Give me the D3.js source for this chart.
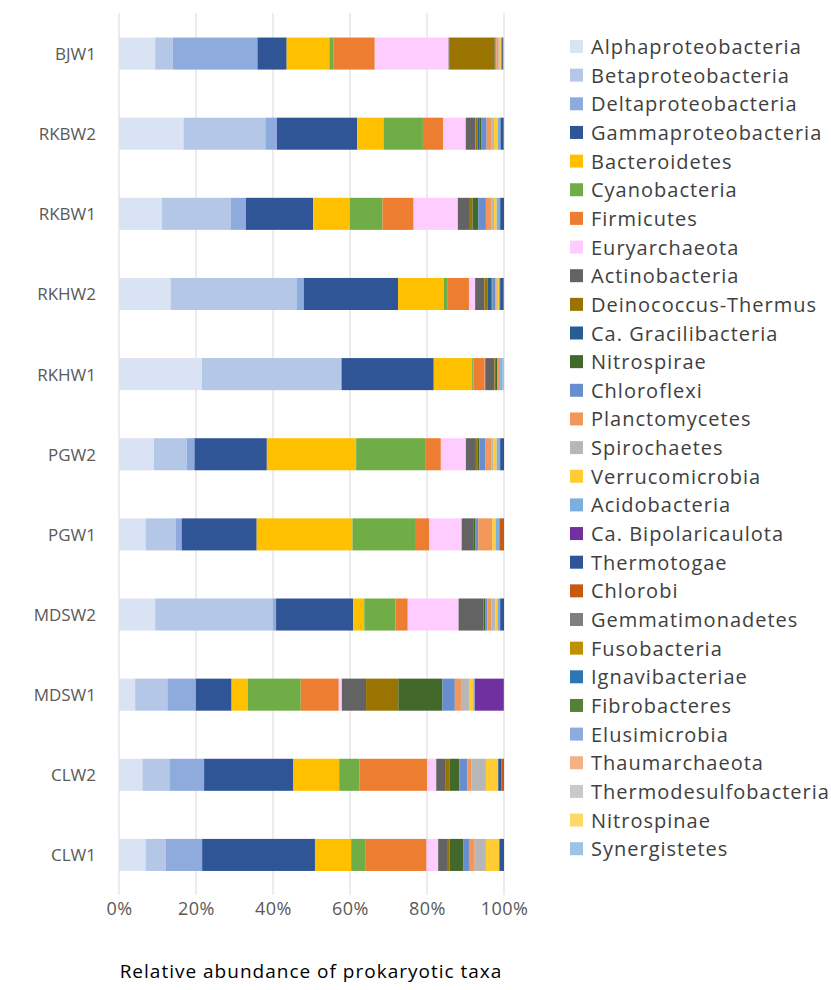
<!DOCTYPE html>
<html>
<head>
<meta charset="utf-8">
<script src="https://cdn.jsdelivr.net/npm/d3@7"></script>
<style>
  body { margin: 0; background: #fff; }
  text { font-family: "Open Sans", sans-serif; }
</style>
</head>
<body>
<div id="chart"></div>
<script>
// samples, top to bottom
var samples = ["BJW1", "RKBW2", "RKBW1", "RKHW2", "RKHW1", "PGW2", "PGW1", "MDSW2", "MDSW1", "CLW2", "CLW1"];

var taxa = ["Alphaproteobacteria", "Betaproteobacteria", "Deltaproteobacteria", "Gammaproteobacteria",
    "Bacteroidetes", "Cyanobacteria", "Firmicutes", "Euryarchaeota", "Actinobacteria", "Deinococcus-Thermus",
    "Ca. Gracilibacteria", "Nitrospirae", "Chloroflexi", "Planctomycetes", "Spirochaetes", "Verrucomicrobia",
    "Acidobacteria", "Ca. Bipolaricaulota", "Thermotogae", "Chlorobi", "Gemmatimonadetes", "Fusobacteria",
    "Ignavibacteriae", "Fibrobacteres", "Elusimicrobia", "Thaumarchaeota", "Thermodesulfobacteria",
    "Nitrospinae", "Synergistetes"];

var colors = ["#dae3f3", "#b4c7e7", "#8faadc", "#2f5597", "#ffc000", "#70ad47", "#ed7d31", "#ffccff",
    "#636363", "#9a7400", "#255e91", "#43682b", "#698ed0", "#f1975a", "#b7b7b7", "#ffcd33",
    "#7cafdd", "#7030a0", "#2f5597", "#c55a11", "#7f7f7f", "#bf9000", "#2e75b6", "#548235",
    "#8faadc", "#f4b183", "#c9c9c9", "#ffd966", "#9dc3e6"];

// relative abundance (%) per sample, in taxa order
var BJW1  = [9.4, 4.6, 22.0, 7.6, 11.1, 1.0, 10.8, 19.2, 0.3, 11.7, 0.1, 0.1, 0.2, 0.6, 0.3, 0.3, 0.2, 0, 0.3, 0.1, 0, 0, 0, 0, 0, 0, 0, 0, 0.2];
var RKBW2 = [16.7, 21.2, 3.0, 20.8, 6.8, 10.2, 5.2, 5.9, 2.5, 0.6, 0.4, 0.6, 1.3, 1.3, 0.6, 1.0, 0.7, 0, 0.7, 0.2, 0, 0, 0, 0, 0, 0, 0, 0, 0];
var RKBW1 = [11.1, 17.9, 4.0, 17.5, 9.5, 8.5, 8.1, 11.5, 2.9, 0.9, 0, 1.5, 2.0, 1.5, 0.6, 0.7, 0.9, 0, 1.0, 0, 0, 0, 0, 0, 0, 0, 0, 0, 0];
var RKHW2 = [13.4, 32.7, 1.9, 24.5, 11.9, 1.0, 5.5, 1.6, 2.4, 0.9, 0.9, 0.3, 0.8, 0.3, 0.3, 0.3, 0.3, 0, 0.8, 0.2, 0, 0, 0, 0, 0, 0, 0, 0, 0];
var RKHW1 = [21.6, 36.2, 0.2, 24.0, 10.0, 0.4, 2.9, 0.1, 2.4, 0.2, 0, 0.6, 0, 0.7, 0, 0, 0.5, 0, 0, 0, 0, 0, 0, 0, 0, 0, 0, 0, 0.5];
var PGW2  = [9.1, 8.5, 2.0, 18.8, 23.2, 18.1, 3.9, 6.5, 2.6, 0.5, 0, 0.4, 1.5, 1.7, 0.4, 0.9, 0.9, 0, 1.0, 0, 0, 0, 0, 0, 0, 0, 0, 0, 0];
var PGW1  = [6.9, 7.8, 1.6, 19.5, 24.9, 16.5, 3.5, 8.4, 3.0, 0, 0, 0.6, 0.7, 3.7, 0, 0.9, 0.9, 0, 0, 1.2, 0, 0, 0, 0, 0, 0, 0, 0, 0];
var MDSW2 = [9.4, 30.6, 0.8, 20.0, 2.9, 8.1, 3.2, 13.2, 6.5, 0, 0, 0.4, 0.6, 1.1, 0.9, 0.6, 0.7, 0, 1.0, 0, 0, 0, 0, 0, 0, 0, 0, 0, 0];
var MDSW1 = [4.2, 8.4, 7.4, 9.3, 4.2, 13.8, 9.9, 0.8, 6.3, 8.4, 0, 11.5, 3.2, 1.6, 2.1, 1.1, 0.4, 7.4, 0.2, 0, 0, 0, 0, 0, 0, 0, 0, 0, 0];
var CLW2  = [6.1, 7.0, 9.0, 23.2, 11.9, 5.3, 17.5, 2.4, 2.3, 1.1, 0, 2.6, 2.1, 1.1, 3.7, 3.2, 0, 0, 0.8, 0.7, 0, 0, 0, 0, 0, 0, 0, 0, 0];
var CLW1  = [6.9, 5.3, 9.4, 29.3, 9.4, 3.8, 15.8, 3.0, 2.3, 0.7, 0, 3.6, 1.4, 1.5, 2.9, 3.5, 0, 0, 1.2, 0, 0, 0, 0, 0, 0, 0, 0, 0, 0];

var xTicks = [0, 20, 40, 60, 80, 100];

var width = 831, height = 990;
var svg = d3.select("#chart").append("svg")
    .attr("width", width)
    .attr("height", height);

// build table: one row per sample, normalised to 100%
var rows = [BJW1, RKBW2, RKBW1, RKHW2, RKHW1, PGW2, PGW1, MDSW2, MDSW1, CLW2, CLW1];
var table = samples.map(function (s, i) {
    var total = d3.sum(rows[i]);
    var o = { sample: s };
    taxa.forEach(function (t, j) { o[t] = rows[i][j] / total * 100; });
    return o;
});
var stacked = d3.stack().keys(taxa)(table);

var x = d3.scaleLinear().domain([0, 100]).range([119, 504]);
var y = d3.scaleBand().domain(samples).range([13.5, 895]).paddingInner(0.6).paddingOuter(0.3);
var color = d3.scaleOrdinal().domain(taxa).range(colors);

// gridlines
svg.append("g")
    .selectAll("line")
    .data(xTicks)
    .join("line")
    .attr("x1", d => x(d))
    .attr("x2", d => x(d))
    .attr("y1", 13)
    .attr("y2", 895)
    .attr("stroke", "#d9d9d9")
    .attr("stroke-width", 1);

// bars
svg.append("g")
    .selectAll("g")
    .data(stacked)
    .join("g")
    .attr("fill", d => color(d.key))
    .selectAll("rect")
    .data(d => d)
    .join("rect")
    .attr("x", d => x(d[0]))
    .attr("y", d => y(d.data.sample))
    .attr("width", d => Math.max(0, x(d[1]) - x(d[0])))
    .attr("height", y.bandwidth());

// sample labels
svg.append("g")
    .selectAll("text")
    .data(samples)
    .join("text")
    .attr("x", 96)
    .attr("y", d => y(d) + y.bandwidth() / 2)
    .attr("text-anchor", "end")
    .attr("dominant-baseline", "central")
    .attr("font-size", 17)
    .attr("fill", "#595959")
    .text(d => d);

// x axis labels
var xAxis = d3.axisBottom(x).tickValues(xTicks).tickFormat(d => d + "%").tickSize(0).tickPadding(0);
var gx = svg.append("g")
    .attr("transform", "translate(0, 902)")
    .call(xAxis);
gx.select(".domain").remove();
gx.selectAll("text")
    .attr("font-size", 18)
    .attr("font-family", "Open Sans, sans-serif")
    .attr("letter-spacing", 0.5)
    .attr("fill", "#595959");

// axis title
svg.append("text")
    .attr("x", 311)
    .attr("y", 978)
    .attr("text-anchor", "middle")
    .attr("font-size", 19)
    .attr("letter-spacing", 1)
    .attr("fill", "#000")
    .text("Relative abundance of prokaryotic taxa");

// legend
var legend = svg.append("g")
    .selectAll("g")
    .data(taxa)
    .join("g")
    .attr("transform", (d, i) => "translate(570," + (46.5 + i * 28.65) + ")");
legend.append("rect")
    .attr("x", 0)
    .attr("y", -6.5)
    .attr("width", 13)
    .attr("height", 13)
    .attr("fill", d => color(d));
legend.append("text")
    .attr("x", 21)
    .attr("y", 0)
    .attr("dominant-baseline", "central")
    .attr("font-size", 20)
    .attr("letter-spacing", 1)
    .attr("fill", "#404040")
    .text(d => d);
</script>
</body>
</html>
